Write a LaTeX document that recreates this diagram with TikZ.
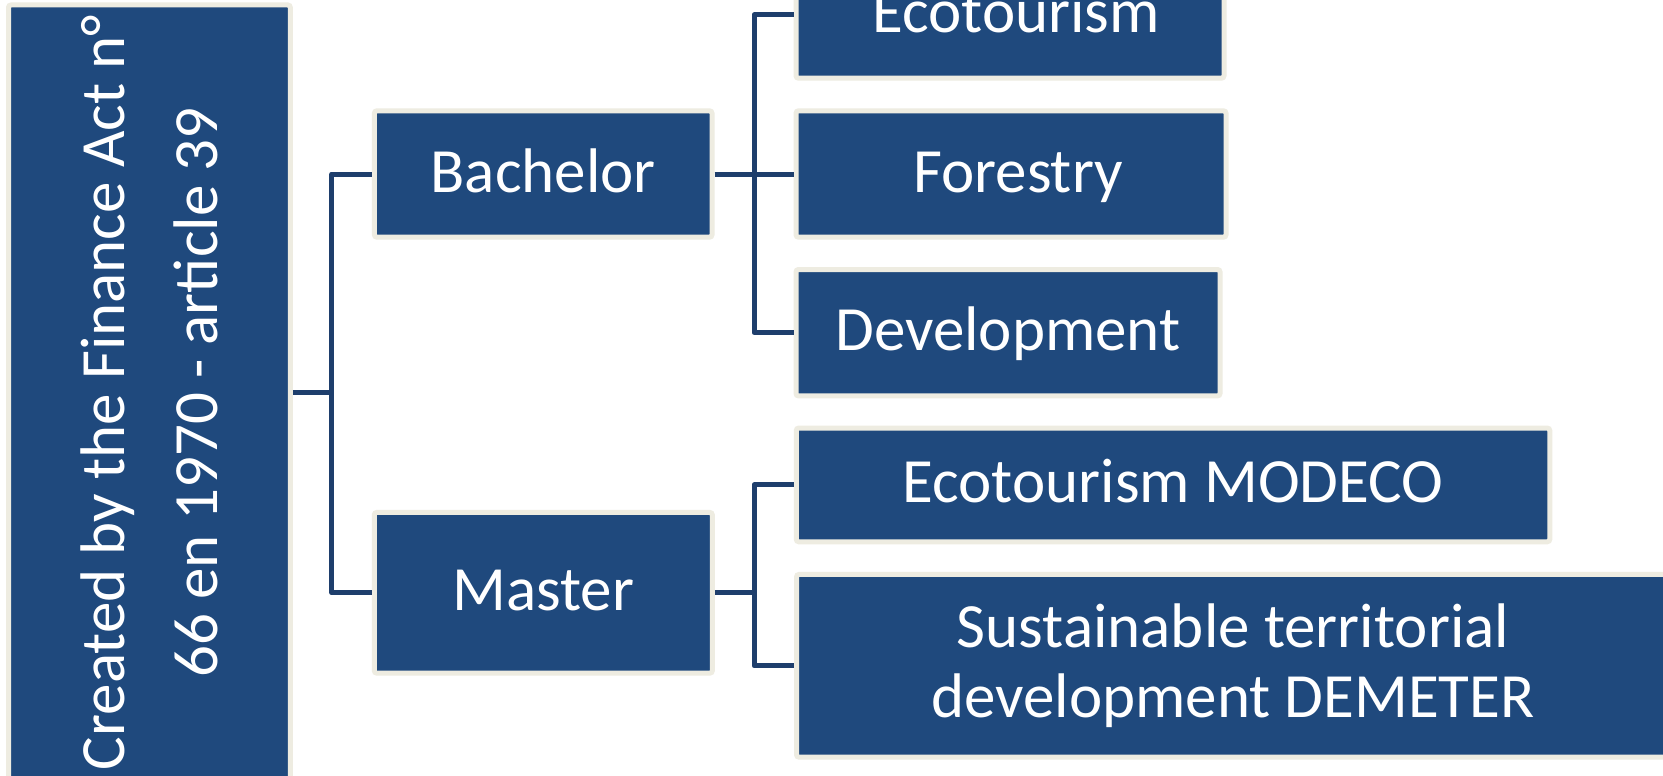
\documentclass[tikz,border=0pt]{standalone}
\usepackage{fontspec}
\setmainfont{Carlito}
\definecolor{boxblue}{RGB}{31,73,125}
\definecolor{boxcream}{RGB}{238,236,225}
\definecolor{linkblue}{RGB}{30,62,108}
\begin{document}
\begin{tikzpicture}[x=1pt,y=-1pt,
  box/.style={draw=boxcream, line width=5pt, fill=boxblue, text=white,
    rounded corners=2.5pt, inner sep=0pt, align=center,
    font=\fontsize{63}{70}\selectfont},
  one/.style={text height=47pt, text depth=11pt},
  conn/.style={draw=linkblue, line width=5pt, line join=round}]
\useasboundingbox[fill=white] (0,0) rectangle (1663,776);

% root
\node[box, rotate=90, minimum width=775pt, minimum height=281.8pt,
  font=\fontsize{63}{93.3}\selectfont] (root) at (149.4,392.5)
  {Created by the Finance Act n°\\66 en 1970 - article 39};

% level 1
\node[box, one, minimum width=337.6pt, minimum height=126.4pt] (bach) at (543.2,174) {Bachelor};
\node[box, one, minimum width=338pt, minimum height=160.7pt] (mast) at (543.3,592.8) {Master};

% level 2 (Bachelor)
\node[box, one, minimum width=428pt, minimum height=126.4pt] (eco) at (1010,15) {\hspace*{12pt}Ecotourism};
\node[box, one, minimum width=430pt, minimum height=126.4pt] (for) at (1011,174) {\hspace*{14pt}Forestry};
\node[box, one, minimum width=424pt, minimum height=126.4pt] (dev) at (1008,332.7) {Development};

% level 2 (Master)
\node[box, one, minimum width=753.5pt, minimum height=113.7pt] (mod) at (1173,484.9) {Ecotourism MODECO};
\node[box, minimum width=873pt, minimum height=182.7pt] (sus) at (1233,665.8) {Sustainable territorial\\development DEMETER};

% junctions
\coordinate (r1) at (331.8,392.5);
\coordinate (b1) at (754,174);
\coordinate (m1) at (754,592.8);

% connectors
\draw[conn] (root.south) -- (r1);
\draw[conn] (bach.west) -| (r1) |- (mast.west);
\draw[conn] (bach.east) -- (b1);
\draw[conn] (eco.west) -| (b1) |- (dev.west);
\draw[conn] (b1) -- (for.west);
\draw[conn] (mast.east) -- (m1);
\draw[conn] (mod.west) -| (m1) |- (sus.west);
\end{tikzpicture}
\end{document}
